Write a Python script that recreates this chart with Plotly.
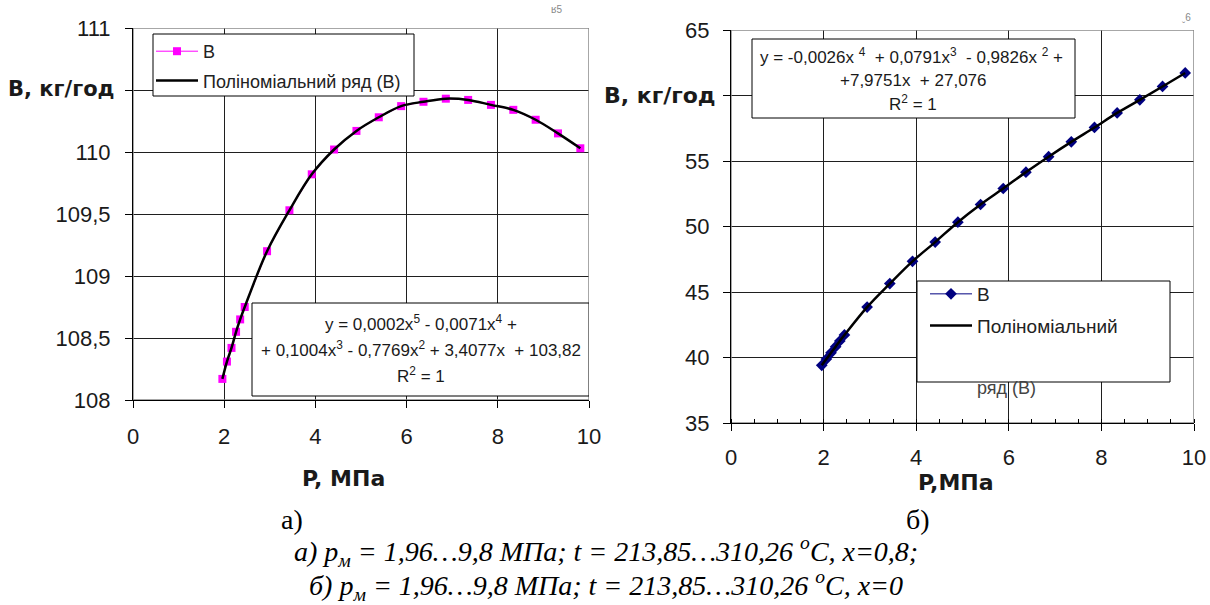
import plotly.graph_objects as go

# ---------------- data ----------------
P = [1.96, 2.06, 2.16, 2.26, 2.35, 2.45, 2.94, 3.43, 3.92, 4.41, 4.90,
     5.39, 5.88, 6.37, 6.86, 7.35, 7.85, 8.34, 8.83, 9.32, 9.81]
B_a = [108.17, 108.31, 108.42, 108.55, 108.65, 108.75, 109.20, 109.53, 109.82,
       110.02, 110.17, 110.28, 110.37, 110.405, 110.43, 110.42, 110.38, 110.34,
       110.26, 110.15, 110.03]
B_b = [39.40, 39.88, 40.36, 40.83, 41.26, 41.72, 43.85, 45.64, 47.34, 48.81,
       50.33, 51.68, 52.90, 54.15, 55.33, 56.46, 57.56, 58.67, 59.67, 60.69, 61.72]

x_ticks = [0, 2, 4, 6, 8, 10]
ya_ticks = [108, 108.5, 109, 109.5, 110, 110.5, 111]
ya_text = ["108", "108,5", "109", "109,5", "110", "", "111"]
yb_ticks = [35, 40, 45, 50, 55, 60, 65]
yb_text = ["35", "40", "45", "50", "55", "", "65"]

W, H = 1210, 605
FONT = "Liberation Sans, Arial, sans-serif"
BOLD = "DejaVu Sans, Liberation Sans, sans-serif"
SERIF = "Liberation Serif, Times New Roman, serif"

def px(x):
    return x / W

def py(y):
    return 1 - y / H

# plot-area pixel boxes and their data ranges
A = dict(l=133, r=589, t=28, b=400, x0=0, x1=10, y0=108, y1=111)
Bx = dict(l=731, r=1194, t=30, b=423, x0=0, x1=10, y0=35, y1=65)

def dx(box, x):
    return box["x0"] + (x - box["l"]) / (box["r"] - box["l"]) * (box["x1"] - box["x0"])

def dy(box, y):
    return box["y0"] + (box["b"] - y) / (box["b"] - box["t"]) * (box["y1"] - box["y0"])

fig = go.Figure()

fig.add_trace(go.Scatter(
    x=P, y=B_a, mode="lines+markers", name="B",
    line=dict(color="#ff00ff", width=1),
    marker=dict(symbol="square", size=8, color="#ff00ff"),
    xaxis="x", yaxis="y", legend="legend", legendgroup="a1"))
fig.add_trace(go.Scatter(
    x=P, y=B_a, mode="lines", name="Поліноміальний ряд (B)",
    line=dict(color="black", width=2.5, shape="spline", smoothing=1.0),
    xaxis="x", yaxis="y", legend="legend", legendgroup="a2"))

fig.add_trace(go.Scatter(
    x=P, y=B_b, mode="lines+markers", name="B",
    line=dict(color="#000080", width=1),
    marker=dict(symbol="diamond", size=9, color="#000080"),
    xaxis="x2", yaxis="y2", legend="legend2", legendgroup="b1"))
fig.add_trace(go.Scatter(
    x=P, y=B_b, mode="lines", name="Поліноміальний",
    line=dict(color="black", width=2.5, shape="spline", smoothing=1.0),
    xaxis="x2", yaxis="y2", legend="legend2", legendgroup="b2"))

axis_common = dict(
    showgrid=True, gridcolor="#1f1f1f", gridwidth=1.2,
    showline=True, linecolor="black", linewidth=1.2,
    ticks="outside", ticklen=7, tickcolor="black", tickwidth=1,
    tickfont=dict(family=FONT, size=22, color="#1a1a1a"),
    zeroline=False, fixedrange=True, automargin=False)

fig.update_layout(
    width=W, height=H,
    margin=dict(l=0, r=0, t=0, b=0, pad=0, autoexpand=False),
    paper_bgcolor="white", plot_bgcolor="white",
    showlegend=True,
    xaxis=dict(axis_common, domain=[px(A["l"]), px(A["r"])], range=[0, 10],
               tickvals=x_ticks, anchor="y", ticklabelstandoff=9),
    yaxis=dict(axis_common, domain=[py(A["b"]), py(A["t"])], range=[108, 111],
               tickvals=ya_ticks, ticktext=ya_text, anchor="x", ticklabelstandoff=10),
    xaxis2=dict(axis_common, domain=[px(Bx["l"]), px(Bx["r"])], range=[0, 10],
                tickvals=x_ticks, anchor="y2", ticklabelstandoff=7,
                minor=dict(dtick=0.5, tick0=0, ticks="inside", ticklen=4,
                           tickcolor="black", showgrid=False)),
    yaxis2=dict(axis_common, domain=[py(Bx["b"]), py(Bx["t"])], range=[35, 65],
                tickvals=yb_ticks, ticktext=yb_text, anchor="x2", ticklabelstandoff=9),
    legend=dict(x=px(151), y=py(33), xanchor="left", yanchor="top",
                bgcolor="rgba(0,0,0,0)", borderwidth=0, tracegroupgap=3,
                itemwidth=42,
                font=dict(family=FONT, size=18, color="#222")),
    legend2=dict(x=px(925), y=py(275), xanchor="left", yanchor="top",
                 bgcolor="rgba(0,0,0,0)", borderwidth=0, tracegroupgap=4,
                 itemwidth=42,
                 font=dict(family=FONT, size=19, color="#222")),
)

shapes = []
# plot borders (gray frame)
for xr, yr, box in (("x", "y", A), ("x2", "y2", Bx)):
    shapes.append(dict(type="rect", xref=xr, yref=yr,
                       x0=box["x0"], x1=box["x1"], y0=box["y0"], y1=box["y1"],
                       line=dict(color="#8a8a8a", width=1.5), layer="between"))
# boxes: legend a, equation a
for (l, t, r, b) in ((153, 34, 414, 96), (252, 303, 589, 396)):
    shapes.append(dict(type="rect", xref="x", yref="y",
                       x0=dx(A, l), x1=dx(A, r), y0=dy(A, b), y1=dy(A, t),
                       fillcolor="white", line=dict(color="black", width=1),
                       layer="between"))
# boxes: equation b, legend b
for (l, t, r, b) in ((752, 39, 1075, 118), (917, 281, 1170, 382)):
    shapes.append(dict(type="rect", xref="x2", yref="y2",
                       x0=dx(Bx, l), x1=dx(Bx, r), y0=dy(Bx, b), y1=dy(Bx, t),
                       fillcolor="white", line=dict(color="black", width=1),
                       layer="between"))
fig.update_layout(shapes=shapes)

ann = []

def text(x, y, s, size=16, family=FONT, xanchor="center", color="#1a1a1a"):
    ann.append(dict(x=px(x), y=py(y), xref="paper", yref="paper", text=s,
                    showarrow=False, xanchor=xanchor, yanchor="middle",
                    font=dict(family=family, size=size, color=color)))

# equations
text(421, 323, "y = 0,0002x<sup>5</sup> - 0,0071x<sup>4</sup> +", 17)
text(421, 349, "+ 0,1004x<sup>3</sup> - 0,7769x<sup>2</sup> + 3,4077x  + 103,82", 17)
text(421, 375, "R<sup>2</sup> = 1", 17)
text(911, 56, "y = -0,0026x <sup>4</sup>  + 0,0791x<sup>3</sup>  - 0,9826x <sup>2</sup> +", 17)
text(913, 80, "+7,9751x  + 27,076", 17)
text(913, 103, "R<sup>2</sup> = 1", 17)
text(975, 388, "ряд (B)", 18, xanchor="left", color="#444")

# small marks near the top corners
text(556, 10, "ʁ5", 10, color="#888")
text(1186, 17, "ˬ6", 10, color="#888")

# axis titles
text(117, 89, "<b>B, кг/год</b>", 21, BOLD, xanchor="right")
text(343, 478, "<b>P, МПа</b>", 22, BOLD)
text(718, 95, "<b>B, кг/год</b>", 22, BOLD, xanchor="right")
text(956, 482, "<b>P,МПа</b>", 22, BOLD)

# captions
text(292, 519, "а)", 28, SERIF, color="black")
text(918, 519, "б)", 28, SERIF, color="black")
text(606, 551, "<i>а) p<sub>м</sub> = 1,96…9,8 МПа; t = 213,85…310,26 <sup>o</sup>C, x=0,8;</i>",
     28, SERIF, color="black")
text(606, 585, "<i>б) p<sub>м</sub> = 1,96…9,8 МПа; t = 213,85…310,26 <sup>o</sup>C, x=0</i>",
     28, SERIF, color="black")

fig.update_layout(annotations=ann)

fig.write_html("out.html",
               config={"displayModeBar": False, "responsive": False},
               post_script="document.body.style.margin='0px';"
                           "document.body.style.overflow='hidden';")
